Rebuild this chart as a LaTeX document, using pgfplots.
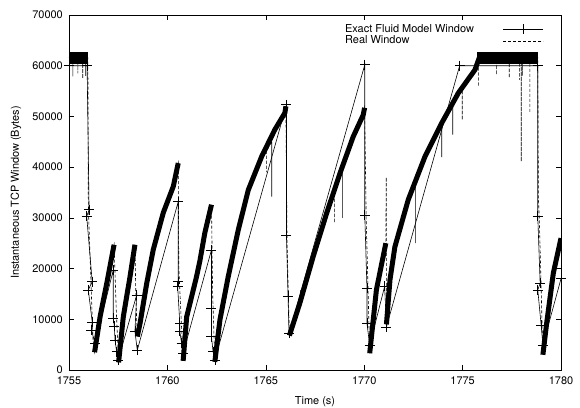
\documentclass[border=0pt]{standalone}
\usepackage{fontspec}
\setmainfont{TeX Gyre Heros}
\usepackage{pgfplots}
\usepackage{pgfplotstable}
\pgfplotsset{compat=1.18}

% Exact fluid model window (sampled points, joined by straight lines)
\pgfplotstableread{
t v
1755.00 60000
1755.92 60000
1756.02 31600
1755.90 30300
1756.18 17400
1755.98 15800
1756.18 9500
1756.14 7900
1756.32 5300
1757.25 19700
1757.25 10200
1757.30 8700
1757.34 5900
1757.42 3600
1757.50 2000
1758.44 14800
1758.35 7600
1758.47 3900
1760.55 33200
1760.55 17400
1760.52 16600
1760.63 9200
1760.63 7600
1760.72 5300
1760.80 3300
1762.24 23700
1762.24 12200
1762.24 6600
1762.32 3600
1762.41 2000
1766.05 52300
1766.05 26600
1766.13 14500
1766.18 7200
1770.03 60200
1770.03 30600
1770.14 16100
1770.14 9200
1770.28 4900
1771.04 16500
1771.13 8500
1774.85 60000
1778.82 60000
1778.82 30300
1778.94 17100
1778.82 15800
1778.99 8900
1779.08 4900
1780.00 18000
}\modeltab

% Real window: thin dashed trace with drops and spikes
\pgfplotstableread{
t v
1755.00 61600
1755.20 61600
1755.20 57900
1755.20 61600
1755.45 61600
1755.45 58500
1755.45 61600
1755.70 61600
1755.70 57500
1755.70 61600
1755.85 61600
1755.85 58000
1755.85 61600
1755.96 61600
1755.98 34000
1756.00 30000
1756.22 6000
1756.30 3500
1756.58 10500
1756.92 17100
1757.29 24700
1757.40 12000
1757.52 1500
1757.76 10500
1758.10 18400
1758.35 24700
1758.40 14000
1758.47 6600
1758.61 9200
1758.95 17100
1759.28 23700
1759.79 31000
1760.30 36200
1760.55 40800
1760.58 20000
1760.80 1800
1760.98 10500
1761.48 18400
1761.65 21500
1761.90 27000
1762.24 32600
1762.30 15000
1762.41 1600
1762.67 9900
1763.09 18400
1763.60 27600
1764.11 35500
1764.79 42100
1765.04 43200
1765.04 39000
1765.04 43200
1765.30 45000
1765.30 34200
1765.30 45000
1765.46 47400
1765.97 50700
1766.02 52000
1766.08 25000
1766.20 6800
1766.73 13200
1766.76 15800
1766.78 14000
1767.41 22400
1768.09 30900
1768.50 36500
1768.50 29000
1768.50 36500
1768.77 38800
1768.90 40000
1768.90 30000
1768.90 40000
1769.44 46000
1769.95 50300
1770.02 51700
1770.10 30000
1770.28 3300
1770.62 15800
1771.10 25000
1771.12 38000
1771.13 9000
1771.31 17800
1771.56 24300
1772.24 33600
1772.60 37000
1772.60 25000
1772.60 37000
1773.09 42100
1773.94 48700
1773.94 42000
1773.94 48700
1774.50 52500
1774.50 46400
1774.50 52500
1774.78 54600
1774.98 55300
1774.98 49300
1774.98 55300
1775.63 59200
1775.80 61600
1775.80 55900
1775.80 61600
1776.73 61600
1776.73 58200
1776.73 61600
1777.37 61600
1777.37 57600
1777.37 61600
1777.90 61600
1777.90 57200
1777.90 61600
1777.98 61600
1777.98 41100
1777.98 61600
1778.05 61600
1778.05 58000
1778.05 61600
1778.42 61600
1778.42 50700
1778.42 61600
1778.82 61600
1778.85 34000
1778.90 29600
1779.08 3000
1779.27 9200
1779.61 19100
1780.00 26000
}\realtab

% Real window: dense oscillation band along each rise
\pgfplotstableread{
t v
1756.30 3500
1756.58 10500
1756.92 17100
1757.29 24700
nan nan
1757.52 1500
1757.76 10500
1758.10 18400
1758.35 24700
nan nan
1758.47 6600
1758.61 9200
1758.95 17100
1759.28 23700
1759.79 31000
1760.30 36200
1760.55 40800
nan nan
1760.80 1800
1760.98 10500
1761.48 18400
1761.65 21500
1761.90 27000
1762.24 32600
nan nan
1762.41 1600
1762.67 9900
1763.09 18400
1763.60 27600
1764.11 35500
1764.79 42100
1765.46 47400
1765.97 50700
1766.02 52000
nan nan
1766.20 6800
1766.73 13200
1767.41 22400
1768.09 30900
1768.77 38800
1769.44 46000
1769.95 50300
1770.02 51700
nan nan
1770.28 3300
1770.62 15800
1771.10 25000
nan nan
1771.13 9000
1771.31 17800
1771.56 24300
1772.24 33600
1773.09 42100
1773.94 48700
1774.78 54600
1775.63 59200
1775.85 61600
nan nan
1779.08 3000
1779.27 9200
1779.61 19100
1780.00 26000
}\bandtab

% Real window: saturated plateaus
\pgfplotstableread{
t v
1755.00 61600
1755.96 61600
nan nan
1775.75 61600
1778.82 61600
}\plateautab

\begin{document}
\fontsize{11pt}{13pt}\selectfont
\begin{tikzpicture}
\useasboundingbox (-69bp,-38bp) rectangle (511bp,370bp);
\begin{axis}[
  at={(0,0)}, anchor=south west,
  width=492bp, height=355bp, scale only axis,
  xmin=1755, xmax=1780, ymin=0, ymax=70000,
  xtick={1755,1760,...,1780},
  ytick={0,10000,...,70000},
  scaled ticks=false,
  /pgf/number format/1000 sep={},
  /pgf/number format/assume math mode=true,
  tick align=inside, major tick length=5bp,
  axis line style={line width=0.8bp},
  every tick/.style={black, line width=0.6bp},
  xticklabel style={inner sep=0pt, yshift=-7bp},
  yticklabel style={inner sep=0pt, xshift=-6bp},
  xlabel={Time (s)},
  ylabel={Instantaneous TCP Window (Bytes)},
  xlabel style={at={(axis description cs:0.5,0)}, anchor=north, yshift=-26bp, inner sep=0pt},
  ylabel style={at={(axis description cs:-0.1077,0.5)}, anchor=center, inner sep=0pt},
  legend style={at={(rel axis cs:0.971,0.982)}, anchor=north east, draw=none, fill=none,
    column sep=29bp, row sep=0pt,
    nodes={inner sep=0pt, text height=8.5bp, text depth=3.2bp},
    font=\fontsize{11pt}{13pt}\selectfont},
  legend cell align=left,
  legend plot pos=right,
  legend image code/.code={\draw[mark repeat=2,mark phase=2,#1] plot coordinates {(0bp,0bp)(20bp,0bp)(40bp,0bp)};},
  unbounded coords=jump,
]
\addlegendimage{black, line width=0.6bp, mark=+, mark size=5bp}
\addlegendentry{Exact Fluid Model Window}
\addlegendimage{black, line width=0.6bp, dash pattern=on 3bp off 2bp}
\addlegendentry{Real Window}

\addplot[forget plot, black, line width=12bp, line cap=butt] table[x=t,y=v] {\plateautab};
\addplot[forget plot, black, line width=5bp, line cap=butt, line join=round] table[x=t,y=v] {\bandtab};
\addplot[forget plot, black, line width=0.6bp, dash pattern=on 3bp off 2bp] table[x=t,y=v] {\realtab};
\addplot[forget plot, black, line width=0.6bp, mark=+, mark size=5bp, mark options={solid}] table[x=t,y=v] {\modeltab};
\end{axis}
\end{tikzpicture}
\end{document}
